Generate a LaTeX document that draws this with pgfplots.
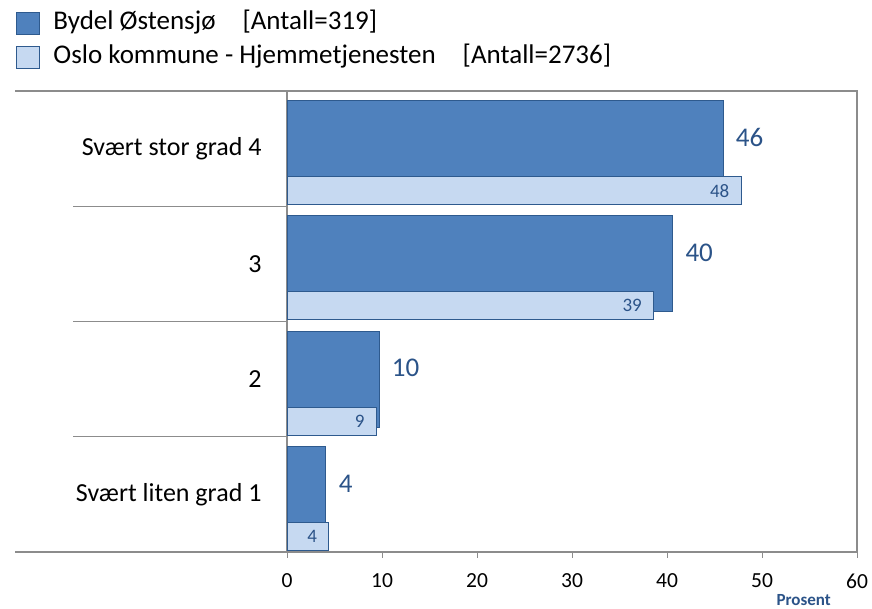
\documentclass[border=0pt]{standalone}
\usepackage{pgfplots}
\pgfplotsset{compat=1.18}
\usepackage{fontspec}
\setmainfont{Carlito}
\definecolor{darkbar}{HTML}{4F81BD}
\definecolor{darkedge}{HTML}{2E5A8E}
\definecolor{lightbar}{HTML}{C6D9F1}
\definecolor{labelblue}{HTML}{2B5388}
\definecolor{axgray}{HTML}{8C8C8C}
\pgfplotstableread{
x y lab
45.9 4 46
40.6 3 40
9.7 2 10
4.1 1 4
}\bydel
\pgfplotstableread{
x y lab
47.8 4 48
38.6 3 39
9.4 2 9
4.4 1 4
}\oslo
\begin{document}
\begin{tikzpicture}[x=1pt,y=1pt]
\useasboundingbox (0,0) rectangle (872,609);
\begin{axis}[
  at={(287pt,57pt)}, anchor=south west,
  scale only axis, width=570pt, height=461pt,
  xmin=0, xmax=60, ymin=0.5, ymax=4.5,
  clip=false,
  xtick={0,10,...,60},
  ytick={1,2,3,4},
  yticklabels={Svært liten grad 1,2,3,Svært stor grad 4},
  xtick pos=bottom, ytick pos=left,
  tick align=outside, major tick length=6pt,
  xtick style={axgray, line width=1pt},
  ytick style={draw=none},
  axis line style={axgray, line width=1.2pt},
  /pgf/number format/assume math mode=true,
  xticklabel style={font=\fontsize{21.5}{24}\selectfont, yshift=-12pt},
  yticklabel style={font=\fontsize{26}{30}\selectfont, anchor=east, xshift=-16pt},
  legend style={at={(-0.481,1.182)}, anchor=north west, draw=none, fill=none,
    font=\fontsize{27}{30}\selectfont, row sep=6pt,
    nodes={text height=18pt, text depth=6pt, inner sep=2pt}},
  legend cell align=left,
  legend image code/.code={\draw[#1, line width=0.8pt] (0pt,-11pt) rectangle (23pt,11pt);
     \path[draw=none, fill=none] (0pt,0pt) -- (35pt,0pt);},
]
\addplot[xbar, bar width=0.833, bar shift=0, fill=darkbar, draw=darkedge, line width=1pt,
  point meta=explicit symbolic, nodes near coords,
  nodes near coords style={anchor=west, font=\fontsize{27}{30}\selectfont, text=labelblue, xshift=9pt, yshift=11pt}]
  table[x=x, y=y, meta=lab] {\bydel};
\addlegendentry{Bydel Østensjø\hspace{27pt}[Antall=319]}
\addplot[xbar, bar width=0.243, bar shift=-0.364, fill=lightbar, draw=darkedge, line width=1pt,
  point meta=explicit symbolic, nodes near coords,
  nodes near coords style={anchor=east, font=\fontsize{19}{22}\selectfont, text=labelblue, xshift=-8pt, yshift=-42pt}]
  table[x=x, y=y, meta=lab] {\oslo};
\addlegendentry{Oslo kommune - Hjemmetjenesten\hspace{27pt}[Antall=2736]}
\draw[axgray, line width=1.2pt] (axis cs:0,4.5) -- ++(-272pt,0pt);
\draw[axgray, line width=1.2pt] (axis cs:0,0.5) -- ++(-272pt,0pt);
\draw[axgray, line width=1.2pt] (axis cs:0,3.5) -- ++(-214pt,0pt);
\draw[axgray, line width=1.2pt] (axis cs:0,2.5) -- ++(-214pt,0pt);
\draw[axgray, line width=1.2pt] (axis cs:0,1.5) -- ++(-214pt,0pt);
\end{axis}
\node[font=\bfseries\fontsize{17}{20}\selectfont, text=labelblue] at (803.7,9) {Prosent};
\end{tikzpicture}
\end{document}
